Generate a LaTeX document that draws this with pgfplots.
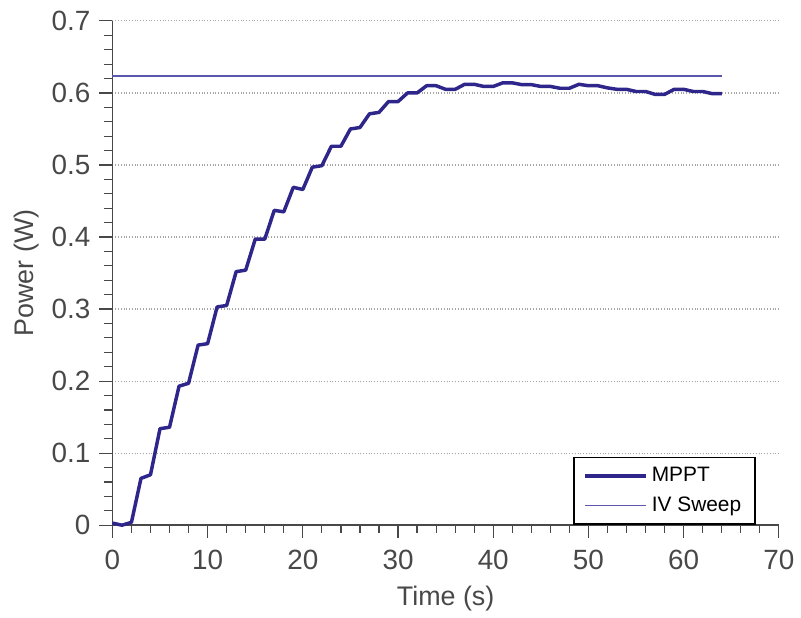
\documentclass[border=0pt]{standalone}
\usepackage{fontspec}
\setmainfont{Liberation Sans}
\usepackage{pgfplots}
\pgfplotsset{compat=1.18}

\definecolor{mppt}{RGB}{46,38,138}
\definecolor{ivs}{RGB}{92,86,172}
\definecolor{axgray}{RGB}{72,72,72}
\definecolor{txtgray}{RGB}{72,72,72}

\begin{document}
\begin{tikzpicture}
\begin{axis}[
  scale only axis,
  width=335pt, height=253.5pt,
  xmin=0, xmax=70, ymin=0, ymax=0.7,
  axis x line=bottom, axis y line=left,
  axis line style={-, axgray, line width=0.8pt},
  xtick={0,10,...,70},
  ytick={0,0.1,...,0.7},
  minor x tick num=4, minor y tick num=4,
  tick align=outside,
  major tick length=6.5pt, minor tick length=4pt,
  tick style={axgray, line width=0.6pt},
  ymajorgrids,
  major grid style={gray!70, densely dotted, line width=0.6pt},
  /pgf/number format/assume math mode=true,
  yticklabel={\ifdim\tick pt=0pt 0\else\pgfmathprintnumber[fixed,fixed zerofill,precision=1]{\tick}\fi},
  ticklabel style={font=\fontsize{14}{16}\selectfont, text=txtgray},
  xticklabel style={yshift=-2.5pt},
  yticklabel style={xshift=-1pt},
  xlabel={Time (s)}, ylabel={Power (W)},
  label style={font=\fontsize{13.5}{15}\selectfont, text=txtgray},
  xlabel style={at={(axis description cs:0.5,0)}, anchor=north, yshift=-27pt},
  ylabel style={at={(axis description cs:0,0.5)}, anchor=center, rotate=0, yshift=43pt},
  legend style={at={(0.691,0.136)}, anchor=north west, draw=black,
    line width=0.8pt, font=\fontsize{10.5}{12}\selectfont,
    inner xsep=5pt, inner ysep=3pt, row sep=2pt,
    cells={anchor=west}},
  legend image code/.code={\draw[#1] (0pt,0pt) -- (30.5pt,0pt);},
  clip=false,
]
\addplot[mppt, line width=1.75pt, line join=round] coordinates {
(0,0.003) (1,0.000) (2,0.004) (3,0.065) (4,0.070) (5,0.134) (6,0.136)
(7,0.193) (8,0.197) (9,0.250) (10,0.252) (11,0.303) (12,0.305)
(13,0.352) (14,0.354) (15,0.397) (16,0.397) (17,0.437) (18,0.435)
(19,0.469) (20,0.466) (21,0.497) (22,0.499) (23,0.526) (24,0.526)
(25,0.550) (26,0.552) (27,0.571) (28,0.573) (29,0.588) (30,0.588)
(31,0.600) (32,0.600) (33,0.610) (34,0.610) (35,0.605) (36,0.605)
(37,0.612) (38,0.612) (39,0.609) (40,0.609) (41,0.614) (42,0.614)
(43,0.6115) (44,0.6115) (45,0.609) (46,0.609) (47,0.6065) (48,0.6065)
(49,0.612) (50,0.610) (51,0.610) (52,0.607) (53,0.605) (54,0.605)
(55,0.602) (56,0.602) (57,0.598) (58,0.598) (59,0.605) (60,0.605)
(61,0.602) (62,0.602) (63,0.599) (64,0.599)
};
\addlegendentry{MPPT}
\addplot[ivs, line width=0.75pt] coordinates {(0,0.6234) (64,0.6234)};
\addlegendentry{IV Sweep}
\end{axis}
\useasboundingbox (-56.5pt,-44pt) rectangle (344pt,264pt);
\end{tikzpicture}
\end{document}
